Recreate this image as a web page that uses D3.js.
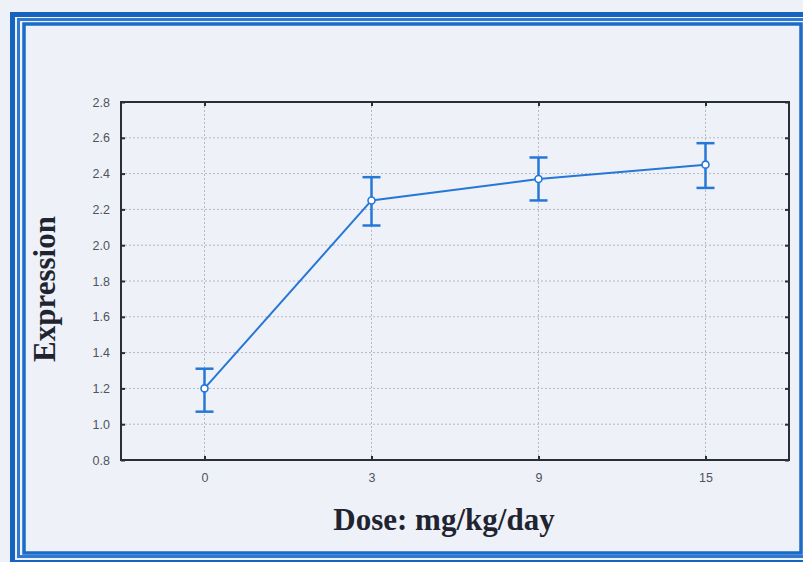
<!DOCTYPE html>
<html lang="en">
  <head>
    <title>dose_response</title>
    <script src="https://d3js.org/d3.v7.min.js"></script>
    <style>
      html, body {margin:0; padding:0; background-color:#eef2f8; overflow:hidden;}
      svg {display:block;}
      .tick-label {font-family:"Liberation Sans", Arial, sans-serif; font-size:12.5px; fill:#4e535e;}
      .axis-title {font-family:"Liberation Serif", "Times New Roman", serif; font-weight:bold; font-size:31px; fill:#1f2430;}
      .grid line {stroke:#b4b9c3; stroke-width:1; stroke-dasharray:2,2;}
    </style>
  </head>
  <body>
    <script>
      // values
      const doses = ['0', '3', '9', '15'];
      const means = [1.20, 2.25, 2.37, 2.45];
      const upper = [1.31, 2.38, 2.49, 2.57];
      const lower = [1.07, 2.11, 2.25, 2.32];
      const yTicks = [0.8, 1.0, 1.2, 1.4, 1.6, 1.8, 2.0, 2.2, 2.4, 2.6, 2.8];

      const width = 803;
      const height = 562;
      const plot = {left: 121, right: 789, top: 102, bottom: 460};
      const blue = '#2677d6';

      const data = doses.map((d, i) => ({name: d, m: means[i], hi: upper[i], lo: lower[i]}));

      const svg = d3.select('body').append('svg').attr('width', width).attr('height', height);

      // triple blue frame
      svg.append('rect').attr('x', 12.5).attr('y', 14.5).attr('width', 800).attr('height', 548)
        .attr('fill', 'none').attr('stroke', '#1565c0').attr('stroke-width', 5);
      svg.append('rect').attr('x', 18.5).attr('y', 19.5).attr('width', 788).attr('height', 537)
        .attr('fill', 'none').attr('stroke', '#2f7ad0').attr('stroke-width', 3);
      svg.append('rect').attr('x', 24).attr('y', 24).attr('width', 777).attr('height', 529)
        .attr('fill', 'none').attr('stroke', '#1a6bc6').attr('stroke-width', 3.5);

      const x = d3.scalePoint()
        .domain(doses)
        .range([plot.left, plot.right])
        .padding(0.5);

      const y = d3.scaleLinear()
        .domain([0.8, 2.8])
        .range([plot.bottom, plot.top]);

      // grid
      svg.append('g').attr('class', 'grid')
        .selectAll('line').data(yTicks.slice(1, -1)).enter().append('line')
        .attr('x1', plot.left).attr('x2', plot.right)
        .attr('y1', d => y(d)).attr('y2', d => y(d));
      svg.append('g').attr('class', 'grid')
        .selectAll('line').data(doses).enter().append('line')
        .attr('x1', d => x(d)).attr('x2', d => x(d))
        .attr('y1', plot.top).attr('y2', plot.bottom);

      // axes with inward ticks on all sides
      const axisStyle = g => {
        g.select('.domain').remove();
        g.selectAll('.tick line').attr('stroke', '#2a2e36').attr('stroke-width', 2);
        g.selectAll('.tick text').attr('class', 'tick-label');
      };
      svg.append('g').attr('transform', `translate(${plot.left},0)`)
        .call(d3.axisLeft(y).tickValues(yTicks).tickFormat(d3.format('.1f')).tickSizeInner(-4))
        .call(axisStyle)
        .call(g => g.selectAll('.tick text').attr('x', -11).attr('text-anchor', 'end'));
      svg.append('g').attr('transform', `translate(${plot.right},0)`)
        .call(d3.axisRight(y).tickValues(yTicks).tickSizeInner(-4).tickFormat(''))
        .call(axisStyle);
      svg.append('g').attr('transform', `translate(0,${plot.bottom})`)
        .call(d3.axisBottom(x).tickSizeInner(-4))
        .call(axisStyle)
        .call(g => g.selectAll('.tick text').attr('y', 13));
      svg.append('g').attr('transform', `translate(0,${plot.top})`)
        .call(d3.axisTop(x).tickSizeInner(-4).tickFormat(''))
        .call(axisStyle);

      svg.append('rect').attr('x', plot.left).attr('y', plot.top)
        .attr('width', plot.right - plot.left).attr('height', plot.bottom - plot.top)
        .attr('fill', 'none').attr('stroke', '#2a2e36').attr('stroke-width', 2);

      // error bars
      const eb = svg.append('g').attr('stroke', blue).attr('stroke-width', 2.5);
      eb.selectAll('.stem').data(data).enter().append('line')
        .attr('x1', d => x(d.name)).attr('x2', d => x(d.name))
        .attr('y1', d => y(d.hi)).attr('y2', d => y(d.lo));
      eb.selectAll('.cap-hi').data(data).enter().append('line')
        .attr('x1', d => x(d.name) - 9).attr('x2', d => x(d.name) + 9)
        .attr('y1', d => y(d.hi)).attr('y2', d => y(d.hi));
      eb.selectAll('.cap-lo').data(data).enter().append('line')
        .attr('x1', d => x(d.name) - 9).attr('x2', d => x(d.name) + 9)
        .attr('y1', d => y(d.lo)).attr('y2', d => y(d.lo));

      // mean line
      svg.append('path').datum(data)
        .attr('fill', 'none').attr('stroke', blue).attr('stroke-width', 2)
        .attr('d', d3.line().x(d => x(d.name)).y(d => y(d.m)));

      svg.append('g').selectAll('circle').data(data).enter().append('circle')
        .attr('cx', d => x(d.name)).attr('cy', d => y(d.m)).attr('r', 3.5)
        .attr('fill', '#ffffff').attr('stroke', blue).attr('stroke-width', 1.6);

      // titles
      svg.append('text').attr('class', 'axis-title')
        .attr('x', 444).attr('y', 530).attr('text-anchor', 'middle')
        .text('Dose: mg/kg/day');
      svg.append('text').attr('class', 'axis-title')
        .attr('transform', 'translate(55,289) rotate(-90)').attr('text-anchor', 'middle')
        .text('Expression');
    </script>
  </body>
</html>
